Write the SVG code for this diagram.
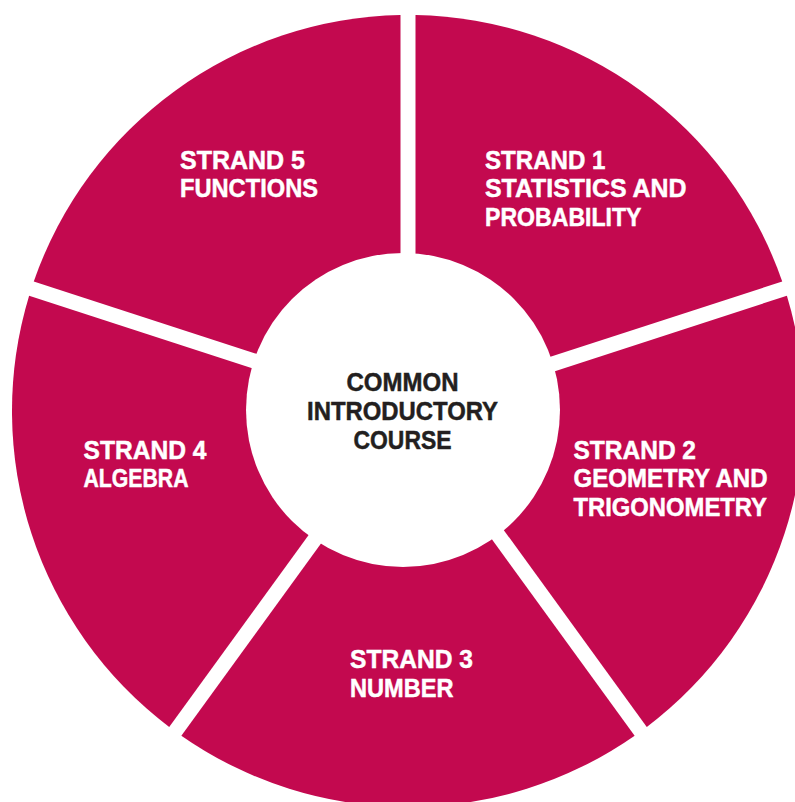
<svg xmlns="http://www.w3.org/2000/svg" width="795" height="802" viewBox="0 0 795 802">
<style>
.seg{fill:#C3094F;}
.lbl{font-family:"Liberation Sans",Arial,sans-serif;font-weight:bold;font-size:26.5px;fill:#FFFFFF;stroke:#FFFFFF;stroke-width:0.5px;}
.ctr{font-family:"Liberation Sans",Arial,sans-serif;font-weight:bold;font-size:26.5px;fill:#231F20;stroke:#231F20;stroke-width:0.5px;text-anchor:middle;}
</style>
<rect x="0" y="0" width="795" height="802" fill="#FFFFFF"/>
<g id="strand1">
<path class="seg" d="M415.5,400.68 L415.5,15.07 A396,396 0 0 1 782.23,281.52 Z"/>
<text class="lbl"><tspan x="485" y="168.5" textLength="120.5" lengthAdjust="spacingAndGlyphs">STRAND 1</tspan><tspan x="485" y="197.3" textLength="201.5" lengthAdjust="spacingAndGlyphs">STATISTICS AND</tspan><tspan x="485" y="226" textLength="156.5" lengthAdjust="spacingAndGlyphs">PROBABILITY</tspan></text>
</g>
<g id="strand2">
<path class="seg" d="M420.14,414.94 L786.87,295.78 A396,396 0 0 1 646.79,726.91 Z"/>
<text class="lbl"><tspan x="573.5" y="458.5" textLength="122.5" lengthAdjust="spacingAndGlyphs">STRAND 2</tspan><tspan x="573.5" y="487" textLength="194" lengthAdjust="spacingAndGlyphs">GEOMETRY AND</tspan><tspan x="573.5" y="515.5" textLength="193.5" lengthAdjust="spacingAndGlyphs">TRIGONOMETRY</tspan></text>
</g>
<g id="strand3">
<path class="seg" d="M408,423.76 L634.65,735.72 A396,396 0 0 1 181.35,735.72 Z"/>
<text class="lbl"><tspan x="350" y="667.5" textLength="123" lengthAdjust="spacingAndGlyphs">STRAND 3</tspan><tspan x="350" y="696.5" textLength="103.5" lengthAdjust="spacingAndGlyphs">NUMBER</tspan></text>
</g>
<g id="strand4">
<path class="seg" d="M395.86,414.94 L169.21,726.91 A396,396 0 0 1 29.13,295.78 Z"/>
<text class="lbl"><tspan x="83.5" y="458.5" textLength="123" lengthAdjust="spacingAndGlyphs">STRAND 4</tspan><tspan x="83.5" y="487" textLength="105" lengthAdjust="spacingAndGlyphs">ALGEBRA</tspan></text>
</g>
<g id="strand5">
<path class="seg" d="M400.5,400.68 L33.77,281.52 A396,396 0 0 1 400.5,15.07 Z"/>
<text class="lbl"><tspan x="180" y="168.5" textLength="125" lengthAdjust="spacingAndGlyphs">STRAND 5</tspan><tspan x="180" y="197.3" textLength="138" lengthAdjust="spacingAndGlyphs">FUNCTIONS</tspan></text>
</g>
<g id="center">
<circle cx="403" cy="410" r="157" fill="#FFFFFF"/>
<text class="ctr"><tspan x="402.5" y="391" textLength="112" lengthAdjust="spacingAndGlyphs">COMMON</tspan><tspan x="402.5" y="420" textLength="191" lengthAdjust="spacingAndGlyphs">INTRODUCTORY</tspan><tspan x="402.5" y="449" textLength="98" lengthAdjust="spacingAndGlyphs">COURSE</tspan></text>
</g>
<g id="connectors"></g>
</svg>
